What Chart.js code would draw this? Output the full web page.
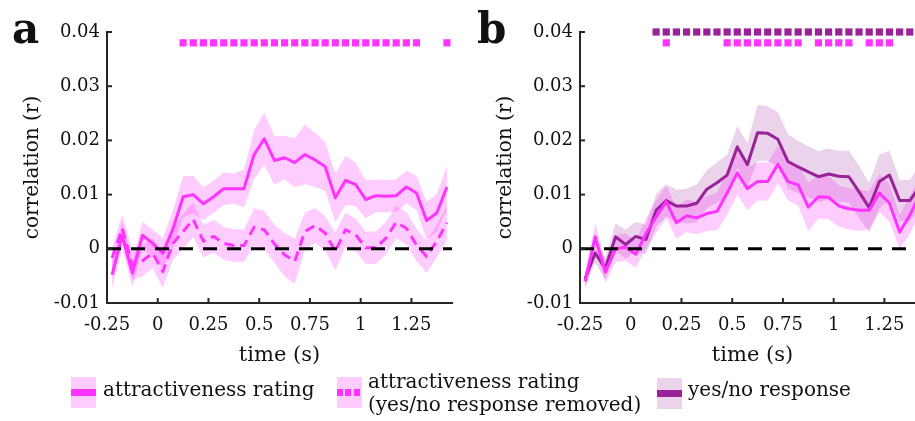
<!DOCTYPE html>
<html>
<head>
<meta charset="utf-8">
<script src="https://cdn.jsdelivr.net/npm/chart.js@4"></script>
<style>
  html, body { margin: 0; padding: 0; background: #fff; }
  body { width: 915px; height: 421px; overflow: hidden; position: relative; font-family: "DejaVu Serif", serif; color: #111; }
  canvas { position: absolute; top: 0; }
  .panel-letter { position: absolute; font-weight: bold; font-size: 42px; line-height: 42px; }
  .sw { position: absolute; width: 25px; height: 31px; }
  .sw .bar { position: absolute; left: 0; right: 0; top: 12px; height: 7px; }
  .lg { position: absolute; font-size: 20px; line-height: 23px; white-space: nowrap; }
</style>
</head>
<body>
<canvas id="chartA" width="462" height="372" style="left:0px"></canvas>
<canvas id="chartB" width="462" height="372" style="left:473px"></canvas>

<div class="panel-letter" style="left:12px; top:8px">a</div>
<div class="panel-letter" style="left:477px; top:8px">b</div>

<div class="sw" style="left:71px; top:377px; background:#ffccff"><div class="bar" style="background:#ff33ff"></div></div>
<div class="lg" style="left:103px; top:378px">attractiveness rating</div>
<div class="sw" style="left:337px; top:377px; background:#ffccff"><div class="bar" style="background:repeating-linear-gradient(90deg, #ff33ff 0 6px, transparent 6px 8.5px)"></div></div>
<div class="lg" style="left:368px; top:370px">attractiveness rating<br>(yes/no response removed)</div>
<div class="sw" style="left:657px; top:378px; background:#ebd3eb"><div class="bar" style="background:#992299"></div></div>
<div class="lg" style="left:688px; top:378px">yes/no response</div>

<script>
// time bins (s), one value per window
const times = [-0.225, -0.175, -0.125, -0.075, -0.025, 0.025, 0.075, 0.125, 0.175, 0.225,
               0.275, 0.325, 0.375, 0.425, 0.475, 0.525, 0.575, 0.625, 0.675, 0.725,
               0.775, 0.825, 0.875, 0.925, 0.975, 1.025, 1.075, 1.125, 1.175, 1.225,
               1.275, 1.325, 1.375, 1.425];

// panel a
const ratingA = [-0.0048, 0.0025, -0.0045, 0.0025, 0.001, -0.0008, 0.0037, 0.0096, 0.010, 0.0083,
                 0.0096, 0.0111, 0.0111, 0.0111, 0.0174, 0.0203, 0.0163, 0.0168, 0.0159, 0.0174,
                 0.0164, 0.0152, 0.0094, 0.0126, 0.0119, 0.0091, 0.0098, 0.0097, 0.0098, 0.0114,
                 0.0103, 0.0052, 0.0066, 0.0114];
const ratingAErr = [0.0025, 0.0025, 0.0025, 0.0025, 0.0025, 0.0028, 0.0035, 0.0038, 0.0035, 0.003,
                    0.003, 0.003, 0.0028, 0.0035, 0.0045, 0.0048, 0.0045, 0.004, 0.0045, 0.0055,
                    0.005, 0.0045, 0.0045, 0.0045, 0.004, 0.0035, 0.003, 0.003, 0.003, 0.003,
                    0.0032, 0.0035, 0.0035, 0.004];
const ratingRemovedA = [-0.0017, 0.0038, -0.003, -0.0022, -0.0008, -0.0042, 0.001, 0.0032, 0.0054, 0.0014,
                        0.0023, 0.001, 0.0006, 0.0006, 0.004, 0.0035, 0.0009, -0.0011, -0.0023, 0.0032,
                        0.0043, 0.0029, -0.0005, 0.0035, 0.0026, 0.0002, 0.0002, 0.002, 0.0049, 0.0038,
                        0.0007, -0.0014, 0.0014, 0.0048];
const ratingRemovedAErr = [0.002, 0.0025, 0.0028, 0.0028, 0.0028, 0.003, 0.003, 0.0032, 0.0032, 0.003,
                           0.003, 0.003, 0.003, 0.003, 0.0035, 0.0035, 0.0035, 0.004, 0.0042, 0.0035,
                           0.0032, 0.0032, 0.0035, 0.0032, 0.003, 0.003, 0.003, 0.003, 0.003, 0.003,
                           0.003, 0.003, 0.003, 0.0032];
const sigTimesA = [0.125, 0.175, 0.225, 0.275, 0.325, 0.375, 0.425, 0.475, 0.525, 0.575,
                   0.625, 0.675, 0.725, 0.775, 0.825, 0.875, 0.925, 0.975, 1.025, 1.075,
                   1.125, 1.175, 1.225, 1.275, 1.425];
const sigLevelA = 0.038;

// panel b
const ratingB = [-0.006, 0.0022, -0.0043, 0.0, 0.0003, -0.001, 0.0028, 0.0059, 0.0087, 0.0048,
                 0.0061, 0.0057, 0.0065, 0.0069, 0.0103, 0.014, 0.0111, 0.0124, 0.0124, 0.0156,
                 0.0124, 0.0118, 0.0077, 0.0096, 0.0095, 0.0079, 0.0074, 0.0071, 0.0071, 0.0103,
                 0.0084, 0.0031, 0.0062, 0.010];
const ratingBErr = [0.0015, 0.0025, 0.002, 0.0025, 0.0025, 0.0025, 0.0028, 0.003, 0.003, 0.003,
                    0.003, 0.003, 0.0032, 0.0035, 0.004, 0.004, 0.004, 0.0035, 0.0035, 0.0035,
                    0.0035, 0.0038, 0.0045, 0.004, 0.004, 0.0038, 0.0038, 0.0038, 0.0035, 0.0035,
                    0.0035, 0.0032, 0.0035, 0.0035];
const yesNoB = [-0.0055, -0.0008, -0.0036, 0.0022, 0.0008, 0.0023, 0.0017, 0.0071, 0.0089, 0.0079,
                0.0079, 0.0084, 0.011, 0.0122, 0.0136, 0.0188, 0.0155, 0.0214, 0.0213, 0.0202,
                0.0161, 0.0151, 0.0142, 0.0133, 0.0138, 0.0134, 0.0133, 0.0105, 0.0076, 0.0124,
                0.0136, 0.0089, 0.0089, 0.0115];
const yesNoBErr = [0.0015, 0.0018, 0.002, 0.0025, 0.0027, 0.0027, 0.0027, 0.003, 0.003, 0.003,
                   0.0032, 0.0035, 0.0035, 0.0037, 0.0038, 0.0038, 0.004, 0.0052, 0.005, 0.005,
                   0.005, 0.0048, 0.0047, 0.0047, 0.0047, 0.0047, 0.0048, 0.0048, 0.0045, 0.005,
                   0.0045, 0.0038, 0.0038, 0.004];
const sigTimesYesNoB = [0.125, 0.175, 0.225, 0.275, 0.325, 0.375, 0.425, 0.475, 0.525, 0.575,
                        0.625, 0.675, 0.725, 0.775, 0.825, 0.875, 0.925, 0.975, 1.025, 1.075,
                        1.125, 1.175, 1.225, 1.275, 1.325, 1.375, 1.425];
const sigTimesRatingB = [0.175, 0.475, 0.525, 0.575, 0.625, 0.675, 0.725, 0.775, 0.825,
                         0.925, 0.975, 1.025, 1.075, 1.175, 1.225, 1.275, 1.425];
const sigLevelYesNoB = 0.04;
const sigLevelRatingB = 0.038;

// axes
const xTicks = [-0.25, 0, 0.25, 0.5, 0.75, 1, 1.25];
const yTicks = [-0.01, 0, 0.01, 0.02, 0.03, 0.04];
const xMin = -0.25, xMax = 1.45, yMin = -0.01, yMax = 0.04;

const MAGENTA = '#ff33ff';
const MAGENTA_BAND = 'rgba(255, 0, 255, 0.2)';
const PURPLE = '#992299';
const PURPLE_BAND = 'rgba(153, 34, 153, 0.2)';
const AXIS = '#262626';
const TEXT = '#111';
const FONT = '"DejaVu Serif", serif';

const pts = (ys) => times.map((t, i) => ({ x: t, y: ys[i] }));

function band(mean, err, color, order) {
  return [
    { data: times.map((t, i) => ({ x: t, y: mean[i] + err[i] })), fill: '+1', backgroundColor: color,
      borderWidth: 0, pointRadius: 0, order: order },
    { data: times.map((t, i) => ({ x: t, y: mean[i] - err[i] })), fill: false,
      borderWidth: 0, pointRadius: 0, order: order }
  ];
}

function line(mean, color, dash, order) {
  return { data: pts(mean), borderColor: color, borderWidth: 3, borderDash: dash, fill: false,
           pointRadius: 0, borderJoinStyle: 'round', order: order };
}

function markers(ts, level, color) {
  return { type: 'scatter', data: ts.map(t => ({ x: t, y: level })), pointStyle: 'rect',
           pointRadius: 5.1, pointBackgroundColor: color, pointBorderWidth: 0, showLine: false,
           clip: false, order: 1 };
}

function zeroLine() {
  return { data: [{ x: xMin, y: 0 }, { x: xMax, y: 0 }], borderColor: '#000', borderWidth: 3,
           borderDash: [14, 10], pointRadius: 0, fill: false, order: 0 };
}

// inward tick marks, like the original figure
const inwardTicks = {
  id: 'inwardTicks',
  afterDraw(chart) {
    const { ctx, scales: { x, y } } = chart;
    ctx.save();
    ctx.strokeStyle = AXIS;
    ctx.lineWidth = 2;
    x.ticks.forEach(t => {
      const px = x.getPixelForValue(t.value);
      ctx.beginPath(); ctx.moveTo(px, y.bottom); ctx.lineTo(px, y.bottom - 5); ctx.stroke();
    });
    y.ticks.forEach(t => {
      const py = y.getPixelForValue(t.value);
      ctx.beginPath(); ctx.moveTo(x.left, py); ctx.lineTo(x.left + 5, py); ctx.stroke();
    });
    ctx.restore();
  }
};

function makeChart(id, datasets) {
  return new Chart(document.getElementById(id), {
    type: 'line',
    data: { datasets },
    options: {
      responsive: false,
      animation: false,
      layout: { padding: { top: 32, right: 10, bottom: 0, left: 0 } },
      plugins: { legend: { display: false }, tooltip: { enabled: false } },
      elements: { line: { tension: 0 } },
      scales: {
        x: {
          type: 'linear', min: xMin, max: xMax,
          afterBuildTicks: s => { s.ticks = xTicks.map(v => ({ value: v })); },
          afterFit: s => { s.height = 69; },
          grid: { display: false, drawTicks: false },
          border: { display: true, color: AXIS, width: 2 },
          ticks: { padding: 12, color: TEXT, font: { family: FONT, size: 18 },
                   maxRotation: 0, autoSkip: false, callback: v => String(v) },
          title: { display: true, text: 'time (s)', color: TEXT,
                   font: { family: FONT, size: 21 }, padding: { top: 0, bottom: 4 } }
        },
        y: {
          type: 'linear', min: yMin, max: yMax,
          afterBuildTicks: s => { s.ticks = yTicks.map(v => ({ value: v })); },
          afterFit: s => { s.width = 107; },
          grid: { display: false, drawTicks: false },
          border: { display: true, color: AXIS, width: 2 },
          ticks: { padding: 7, color: TEXT, font: { family: FONT, size: 18 },
                   autoSkip: false, callback: v => String(v) },
          title: { display: true, text: 'correlation (r)', color: TEXT,
                   font: { family: FONT, size: 20 }, padding: { top: 21, bottom: 0 } }
        }
      }
    },
    plugins: [inwardTicks]
  });
}

makeChart('chartA', [
  zeroLine(),
  markers(sigTimesA, sigLevelA, MAGENTA),
  line(ratingRemovedA, MAGENTA, [10, 6], 2),
  line(ratingA, MAGENTA, [], 3),
  ...band(ratingRemovedA, ratingRemovedAErr, MAGENTA_BAND, 5),
  ...band(ratingA, ratingAErr, MAGENTA_BAND, 6)
]);

makeChart('chartB', [
  zeroLine(),
  markers(sigTimesYesNoB, sigLevelYesNoB, PURPLE),
  markers(sigTimesRatingB, sigLevelRatingB, MAGENTA),
  line(ratingB, MAGENTA, [], 2),
  line(yesNoB, PURPLE, [], 3),
  ...band(ratingB, ratingBErr, MAGENTA_BAND, 5),
  ...band(yesNoB, yesNoBErr, PURPLE_BAND, 6)
]);
</script>
</body>
</html>
